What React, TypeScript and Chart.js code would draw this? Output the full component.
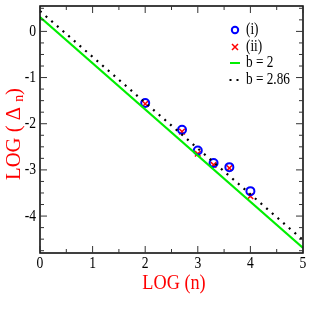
import React, { useEffect, useRef } from "react";
import { Chart, registerables } from "chart.js";

Chart.register(...registerables);

const xTicks = [0, 1, 2, 3, 4, 5];
const yTicks = [-4, -3, -2, -1, 0];
const logN = [2.0, 2.7, 3.0, 3.3, 3.6, 4.0];
const seriesI = [-1.55, -2.13, -2.58, -2.85, -2.94, -3.46];
const seriesII = [-1.57, -2.17, -2.65, -2.89, -2.96, -3.57];
const lineB2X = [0, 5];
const lineB2Y = [0.31, -4.69];
const lineB286X = [0, 5];
const lineB286Y = [0.44, -4.52];
const legendLabels = ["(i)", "(ii)", "b = 2", "b = 2.86"];

const SERIF = "'Liberation Serif', 'DejaVu Serif', serif";
const SX = 0.8;

function txt(
  ctx: CanvasRenderingContext2D,
  s: string,
  x: number,
  y: number,
  size: number,
  sx: number,
  align: CanvasTextAlign,
  color: string
) {
  ctx.save();
  ctx.font = `${size}px ${SERIF}`;
  ctx.fillStyle = color;
  ctx.textAlign = align;
  ctx.textBaseline = "middle";
  ctx.translate(x, y);
  ctx.scale(sx, 1);
  ctx.fillText(s, 0, 0);
  ctx.restore();
}

const framePlugin = {
  id: "frame",
  afterDraw(chart: any) {
    const { ctx, chartArea } = chart;
    const { left, right, top, bottom } = chartArea;
    const xs = chart.scales.x;
    const ys = chart.scales.y;
    ctx.save();
    ctx.strokeStyle = "#000";
    ctx.lineWidth = 1.5;
    ctx.strokeRect(left, top, right - left, bottom - top);
    ctx.lineWidth = 1;
    ctx.strokeStyle = "#333";
    for (let v = 0; v <= 5.0001; v += 0.5) {
      const px = xs.getPixelForValue(v);
      const len = Math.abs(v - Math.round(v)) < 1e-6 ? 7 : 4;
      ctx.beginPath();
      ctx.moveTo(px, bottom);
      ctx.lineTo(px, bottom - len);
      ctx.moveTo(px, top);
      ctx.lineTo(px, top + len);
      ctx.stroke();
    }
    for (let v = -4.75; v <= 0.5001; v += 0.25) {
      const py = ys.getPixelForValue(v);
      const len = Math.abs(v - Math.round(v)) < 1e-6 ? 7 : 4;
      ctx.beginPath();
      ctx.moveTo(left, py);
      ctx.lineTo(left + len, py);
      ctx.moveTo(right, py);
      ctx.lineTo(right - len, py);
      ctx.stroke();
    }
    // tick labels
    xTicks.forEach((v) => {
      txt(ctx, String(v), xs.getPixelForValue(v), 264, 17, SX, "center", "#000");
    });
    yTicks.forEach((v) => {
      txt(ctx, String(v), 36, ys.getPixelForValue(v), 17, SX, "right", "#000");
    });

    // x title
    txt(ctx, "LOG (n)", 174, 283, 22, 0.83, "center", "#ff0000");

    // y title with subscript
    ctx.save();
    ctx.translate(14, 134);
    ctx.rotate(-Math.PI / 2);
    ctx.fillStyle = "#ff0000";
    ctx.textAlign = "left";
    ctx.textBaseline = "middle";
    const main = "LOG ( \u0394 ";
    ctx.font = `21px ${SERIF}`;
    const w1 = ctx.measureText(main).width;
    ctx.font = `14px ${SERIF}`;
    const w2 = ctx.measureText("n").width;
    ctx.font = `21px ${SERIF}`;
    const w3 = ctx.measureText(")").width;
    const total = w1 + w2 + w3;
    const sc = 92 / total;
    ctx.scale(sc, 1);
    const x0 = -total / 2;
    ctx.fillText(main, x0, 0);
    ctx.font = `14px ${SERIF}`;
    ctx.fillText("n", x0 + w1, 5);
    ctx.font = `21px ${SERIF}`;
    ctx.fillText(")", x0 + w1 + w2, 0);
    ctx.restore();

    // legend
    const lx = 235;
    const tx = 246;
    const ly = [30, 47, 63, 80];
    ctx.strokeStyle = "#0000ff";
    ctx.lineWidth = 2;
    ctx.beginPath();
    ctx.arc(lx, ly[0], 3.2, 0, Math.PI * 2);
    ctx.stroke();
    ctx.strokeStyle = "#ff0000";
    ctx.lineWidth = 1.5;
    ctx.beginPath();
    ctx.moveTo(lx - 3, ly[1] - 3);
    ctx.lineTo(lx + 3, ly[1] + 3);
    ctx.moveTo(lx + 3, ly[1] - 3);
    ctx.lineTo(lx - 3, ly[1] + 3);
    ctx.stroke();
    ctx.strokeStyle = "#00ee00";
    ctx.lineWidth = 2;
    ctx.beginPath();
    ctx.moveTo(230, ly[2]);
    ctx.lineTo(240, ly[2]);
    ctx.stroke();
    ctx.fillStyle = "#000";
    ctx.fillRect(229.5, ly[3] - 1, 2, 2);
    ctx.fillRect(236.5, ly[3] - 1, 2, 2);
    legendLabels.forEach((s, i) => {
      txt(ctx, s, tx, ly[i], 17, 0.78, "left", "#000");
    });
    ctx.restore();
  },
};

export default function App() {
  const ref = useRef<HTMLCanvasElement | null>(null);
  useEffect(() => {
    document.body.style.margin = "0";
    const canvas = ref.current;
    if (!canvas) return;
    const chart = new Chart(canvas, {
      type: "scatter",
      data: {
        datasets: [
          {
            label: "b = 2",
            type: "line",
            data: lineB2X.map((x, i) => ({ x, y: lineB2Y[i] })),
            borderColor: "#00ee00",
            borderWidth: 2,
            pointRadius: 0,
            fill: false,
          },
          {
            label: "b = 2.86",
            type: "line",
            data: lineB286X.map((x, i) => ({ x, y: lineB286Y[i] })),
            borderColor: "#000",
            borderWidth: 2.2,
            borderDash: [2, 5.5],
            pointRadius: 0,
            fill: false,
          },
          {
            label: "(i)",
            data: logN.map((x, i) => ({ x, y: seriesI[i] })),
            pointStyle: "circle",
            pointRadius: 4,
            borderColor: "#0000ff",
            backgroundColor: "rgba(0,0,0,0)",
            borderWidth: 2,
          },
          {
            label: "(ii)",
            data: logN.map((x, i) => ({ x, y: seriesII[i] })),
            pointStyle: "crossRot",
            pointRadius: 4,
            borderColor: "#ff0000",
            borderWidth: 1.5,
          },
        ],
      },
      options: {
        animation: false,
        responsive: false,
        maintainAspectRatio: false,
        layout: { padding: { top: 6, right: 16, left: 0, bottom: 0 } },
        plugins: { legend: { display: false }, tooltip: { enabled: false } },
        scales: {
          x: {
            type: "linear",
            min: 0,
            max: 5,
            grid: { display: false },
            border: { display: false },
            afterBuildTicks: (s: any) => {
              s.ticks = xTicks.map((v) => ({ value: v }));
            },
            afterFit: (s: any) => {
              s.height = 66;
            },
            ticks: { display: false },
          },
          y: {
            type: "linear",
            min: -4.8,
            max: 0.55,
            grid: { display: false },
            border: { display: false },
            afterBuildTicks: (s: any) => {
              s.ticks = yTicks.map((v) => ({ value: v }));
            },
            afterFit: (s: any) => {
              s.width = 40;
            },
            ticks: { display: false },
          },
        },
      },
      plugins: [framePlugin],
    });
    return () => chart.destroy();
  }, []);
  return <canvas ref={ref} width={319} height={319} style={{ display: "block" }} />;
}
